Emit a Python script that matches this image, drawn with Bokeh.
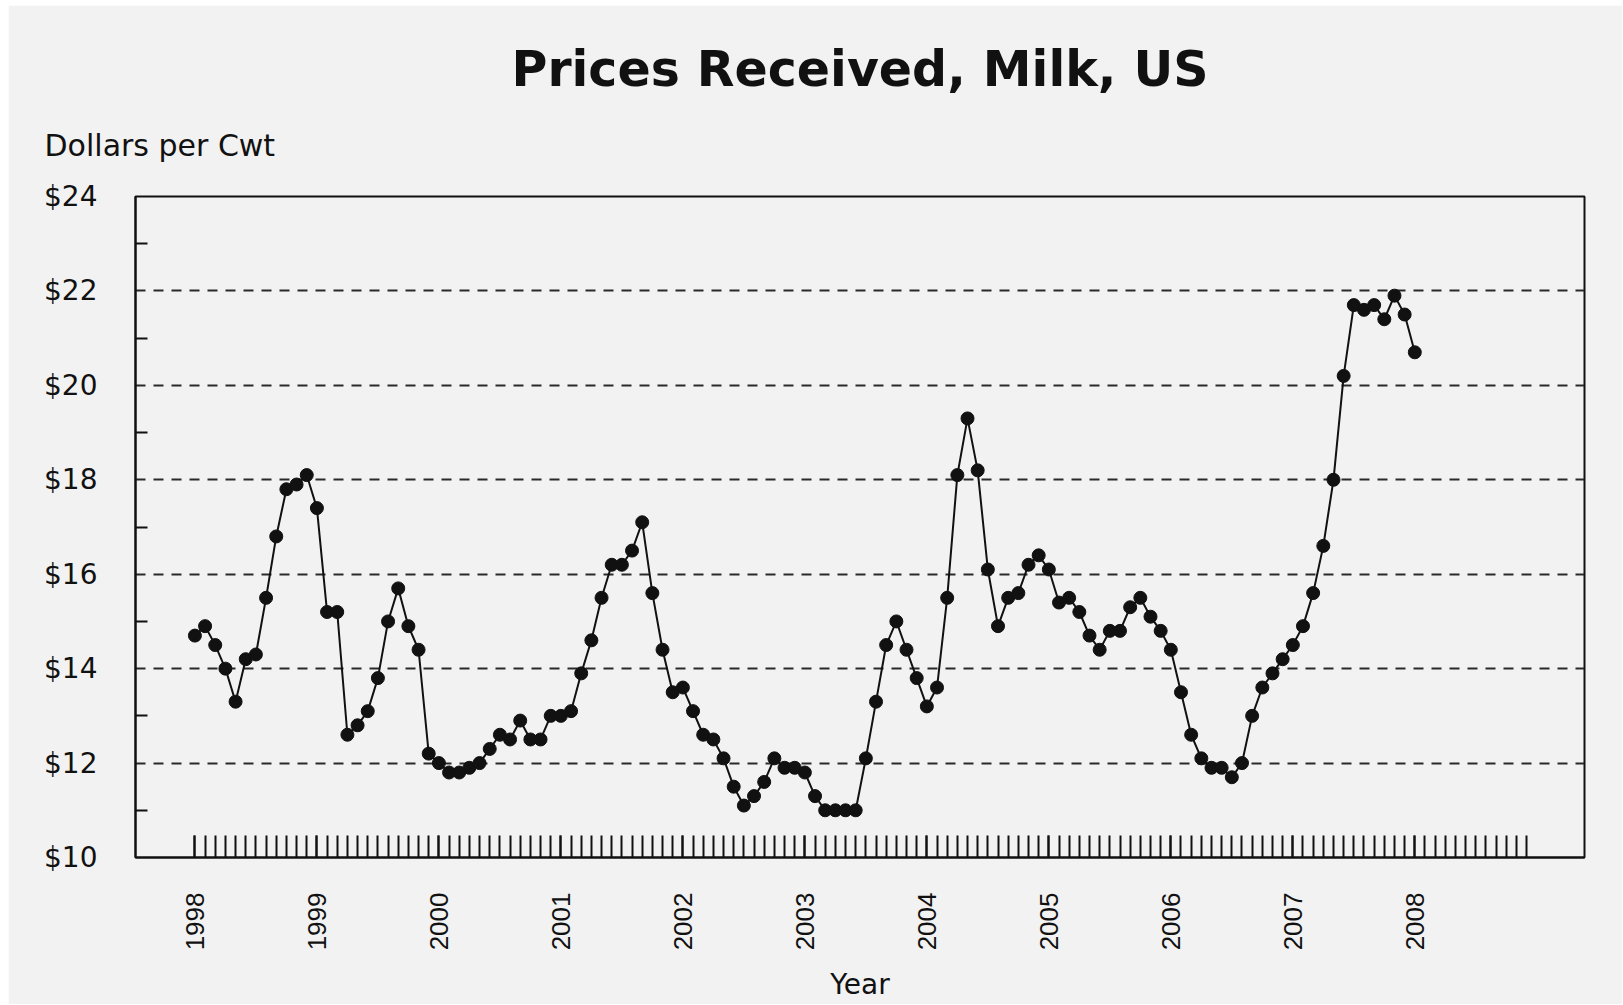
import numpy as np
from bokeh.plotting import figure
from bokeh.models import Range1d, FixedTicker, Title, Spacer
from bokeh.layouts import column, row
from bokeh.embed import file_html
from bokeh.resources import INLINE

# ---- data (monthly US all-milk price, $/cwt), Jan 1998 .. Jan 2008 ----
start_year = 1998
prices = [
    14.7, 14.9, 14.5, 14.0, 13.3, 14.2, 14.3, 15.5, 16.8, 17.8, 17.9, 18.1,   # 1998
    17.4, 15.2, 15.2, 12.6, 12.8, 13.1, 13.8, 15.0, 15.7, 14.9, 14.4, 12.2,   # 1999
    12.0, 11.8, 11.8, 11.9, 12.0, 12.3, 12.6, 12.5, 12.9, 12.5, 12.5, 13.0,   # 2000
    13.0, 13.1, 13.9, 14.6, 15.5, 16.2, 16.2, 16.5, 17.1, 15.6, 14.4, 13.5,   # 2001
    13.6, 13.1, 12.6, 12.5, 12.1, 11.5, 11.1, 11.3, 11.6, 12.1, 11.9, 11.9,   # 2002
    11.8, 11.3, 11.0, 11.0, 11.0, 11.0, 12.1, 13.3, 14.5, 15.0, 14.4, 13.8,   # 2003
    13.2, 13.6, 15.5, 18.1, 19.3, 18.2, 16.1, 14.9, 15.5, 15.6, 16.2, 16.4,   # 2004
    16.1, 15.4, 15.5, 15.2, 14.7, 14.4, 14.8, 14.8, 15.3, 15.5, 15.1, 14.8,   # 2005
    14.4, 13.5, 12.6, 12.1, 11.9, 11.9, 11.7, 12.0, 13.0, 13.6, 13.9, 14.2,   # 2006
    14.5, 14.9, 15.6, 16.6, 18.0, 20.2, 21.7, 21.6, 21.7, 21.4, 21.9, 21.5,   # 2007
    20.7,                                                                     # 2008
]
year_ticks = [1998, 1999, 2000, 2001, 2002, 2003, 2004, 2005, 2006, 2007, 2008]
year_labels = ["1998", "1999", "2000", "2001", "2002", "2003", "2004", "2005", "2006", "2007", "2008"]
price_ticks = [10, 12, 14, 16, 18, 20, 22, 24]
price_labels = ["$10", "$12", "$14", "$16", "$18", "$20", "$22", "$24"]
price_minor = [11, 13, 15, 17, 19, 21, 23]
grid_values = [12, 14, 16, 18, 20, 22]

months_x = [start_year + i / 12 for i in range(len(prices))]
month_ticks = [start_year + i / 12 for i in range(132)]

INK = "#111111"
BG = "#f2f2f2"

p = figure(width=1614, height=999, output_backend="svg", toolbar_location=None,
           x_range=Range1d(1997.513, 2009.391), y_range=Range1d(10, 24),
           min_border_left=127, min_border_right=38, min_border_top=191,
           min_border_bottom=147,
           background_fill_color=BG, border_fill_color=BG)
p.outline_line_color = INK
p.outline_line_width = 2

# titles (p.title is the outermost, added titles sit nearer the frame)
p.title.text = "Prices Received, Milk, US"
p.title.align = "center"
p.title.standoff = -13
p.title.text_font = "DejaVu Sans"
p.title.text_font_size = "49px"
p.title.text_font_style = "bold"
p.title.text_color = INK

units = Title(text="Dollars per Cwt", align="left", offset=-91, standoff=68,
              text_font="DejaVu Sans", text_font_size="30px",
              text_font_style="normal", text_color=INK)
p.add_layout(units, "above")

# grid
p.xgrid.visible = False
p.ygrid.ticker = FixedTicker(ticks=grid_values)
p.ygrid.grid_line_color = "#2a2a2a"
p.ygrid.grid_line_width = 2
p.ygrid.grid_line_dash = "10 8"

# x axis
xa = p.xaxis[0]
xa.ticker = FixedTicker(ticks=year_ticks, minor_ticks=month_ticks)
xa.major_label_overrides = {t: l for t, l in zip(year_ticks, year_labels)}
xa.major_label_orientation = np.pi / 2
xa.major_tick_in = 22
xa.major_tick_out = 0
xa.minor_tick_in = 22
xa.minor_tick_out = 0
xa.major_tick_line_color = INK
xa.minor_tick_line_color = INK
xa.major_tick_line_width = 2
xa.minor_tick_line_width = 2
xa.axis_line_color = INK
xa.axis_line_width = 2
xa.major_label_standoff = 35
xa.major_label_text_font = "Liberation Sans"
xa.major_label_text_font_size = "26px"
xa.major_label_text_color = INK
xa.axis_label = "Year"
xa.axis_label_standoff = 15
xa.axis_label_text_font = "DejaVu Sans"
xa.axis_label_text_font_size = "28px"
xa.axis_label_text_font_style = "normal"
xa.axis_label_text_color = INK

# y axis
ya = p.yaxis[0]
ya.ticker = FixedTicker(ticks=price_ticks, minor_ticks=price_minor)
ya.major_label_overrides = {t: l for t, l in zip(price_ticks, price_labels)}
ya.major_tick_in = 0
ya.major_tick_out = 0
ya.minor_tick_in = 12
ya.minor_tick_out = 0
ya.minor_tick_line_color = INK
ya.minor_tick_line_width = 2
ya.axis_line_color = INK
ya.axis_line_width = 2
ya.major_label_standoff = 38
ya.major_label_text_font = "DejaVu Sans"
ya.major_label_text_font_size = "28px"
ya.major_label_text_color = INK

# data
p.line(months_x, prices, line_color=INK, line_width=2)
p.scatter(months_x, prices, marker="circle", size=13, fill_color=INK, line_color=INK)

page = column(Spacer(height=5), row(Spacer(width=8), p))
open("out.html", "w").write(file_html(page, INLINE))
